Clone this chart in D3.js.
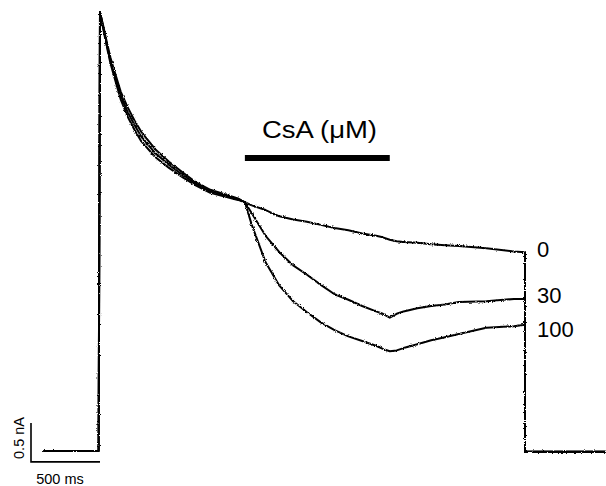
<!DOCTYPE html>
<html><head><meta charset="utf-8">
<script src="https://cdn.jsdelivr.net/npm/d3@7"></script>
<style>
html,body{margin:0;padding:0;background:#fff;}
svg{display:block;font-family:"Liberation Sans",Arial,sans-serif;}
</style></head>
<body>
<script>
// time points (ms) shared by all traces
const times = [-410, -10, 0, 25, 50, 75, 100, 150, 200, 250, 300, 400, 500, 600, 700, 800, 1000, 1050,
  1100, 1200, 1300, 1400, 1500, 1600, 1700, 1800, 1900, 2000, 2050, 2100, 2150, 2200, 2300, 2400, 2500, 2600, 2800, 3000, 3080, 3080, 3665];
// currents (nA) for each CsA concentration
const trace0 = [0, 0, 5.63, 5.44, 5.24, 5.05, 4.90, 4.61, 4.41, 4.24, 4.09, 3.87, 3.71, 3.57, 3.44, 3.35, 3.24, 3.19,
  3.15, 3.09, 3.01, 2.97, 2.94, 2.90, 2.86, 2.83, 2.79, 2.76, 2.74, 2.71, 2.69, 2.68, 2.67, 2.65, 2.64, 2.63, 2.60, 2.56, 2.55, -0.01, -0.01];
const trace30 = [0, 0, 5.63, 5.42, 5.21, 5.01, 4.86, 4.56, 4.35, 4.18, 4.03, 3.82, 3.67, 3.54, 3.42, 3.33, 3.23, 3.19,
  3.05, 2.76, 2.55, 2.38, 2.26, 2.13, 2.01, 1.94, 1.86, 1.79, 1.76, 1.71, 1.76, 1.79, 1.83, 1.86, 1.88, 1.91, 1.92, 1.95, 1.95, -0.01, -0.01];
const trace100 = [0, 0, 5.63, 5.40, 5.18, 4.98, 4.82, 4.51, 4.29, 4.12, 3.97, 3.77, 3.63, 3.51, 3.40, 3.31, 3.22, 3.19,
  2.90, 2.42, 2.12, 1.92, 1.78, 1.65, 1.55, 1.47, 1.41, 1.35, 1.31, 1.28, 1.29, 1.32, 1.37, 1.42, 1.46, 1.50, 1.58, 1.60, 1.62, -0.01, -0.01];
const concLabels = ["0", "30", "100"];
const drugPeriod = [1050, 2100];
const drugLabel = "CsA (\u03BCM)";
const scaleBarTime = 500;   // ms
const scaleBarCurrent = 0.5; // nA
const scaleBarTimeLabel = "500 ms";
const scaleBarCurrentLabel = "0.5 nA";

const W = 606, H = 486;
const svg = d3.select("body").append("svg").attr("width", W).attr("height", H);

const x = d3.scaleLinear().domain([-500, 3667]).range([31, 606]);
const y = d3.scaleLinear().domain([0, 5.63]).range([451, 12]);

const defs = svg.append("defs");
const f = defs.append("filter").attr("id", "noise").attr("filterUnits", "userSpaceOnUse")
  .attr("x", 0).attr("y", 0).attr("width", W).attr("height", H);
f.append("feTurbulence").attr("type", "fractalNoise").attr("baseFrequency", "0.9").attr("numOctaves", 1).attr("seed", 3).attr("result", "t");
f.append("feDisplacementMap").attr("in", "SourceGraphic").attr("in2", "t").attr("scale", 3).attr("xChannelSelector", "R").attr("yChannelSelector", "G");

const line = d3.line().x((d, i) => x(times[i])).y(d => y(d));
const traces = [trace0, trace30, trace100];
svg.append("g").attr("filter", "url(#noise)")
  .selectAll("path").data(traces).join("path")
  .attr("d", d => line(d))
  .attr("fill", "none").attr("stroke", "#000").attr("stroke-width", 2)
  .attr("stroke-linejoin", "round");

// concentration labels
const labelDy = [5, 4, 12];
svg.selectAll("text.conc").data(concLabels).join("text").attr("class", "conc")
  .attr("x", 537)
  .attr("y", (d, i) => y(traces[i][times.length - 3]) + labelDy[i])
  .attr("font-size", 22).attr("fill", "#000").text(d => d);

// drug application bar
svg.append("rect")
  .attr("x", x(drugPeriod[0])).attr("width", x(drugPeriod[1]) - x(drugPeriod[0]))
  .attr("y", 155).attr("height", 6).attr("fill", "#000");
svg.append("text").attr("x", 262).attr("y", 138)
  .attr("font-size", 23).attr("textLength", 115).attr("lengthAdjust", "spacingAndGlyphs")
  .attr("fill", "#000").text(drugLabel);

// scale bar
const sbT0 = -500, sbI0 = -0.14;
svg.append("path")
  .attr("d", `M${x(sbT0)},${y(sbI0 + scaleBarCurrent)}V${y(sbI0)}H${x(sbT0 + scaleBarTime)}`)
  .attr("fill", "none").attr("stroke", "#000").attr("stroke-width", 1.6);
svg.append("text").attr("x", 60).attr("y", 484).attr("text-anchor", "middle")
  .attr("font-size", 14.5).attr("fill", "#000").text(scaleBarTimeLabel);
svg.append("text").attr("transform", "translate(24,438) rotate(-90)").attr("text-anchor", "middle")
  .attr("font-size", 14.5).attr("fill", "#000").text(scaleBarCurrentLabel);
</script>
</body></html>
